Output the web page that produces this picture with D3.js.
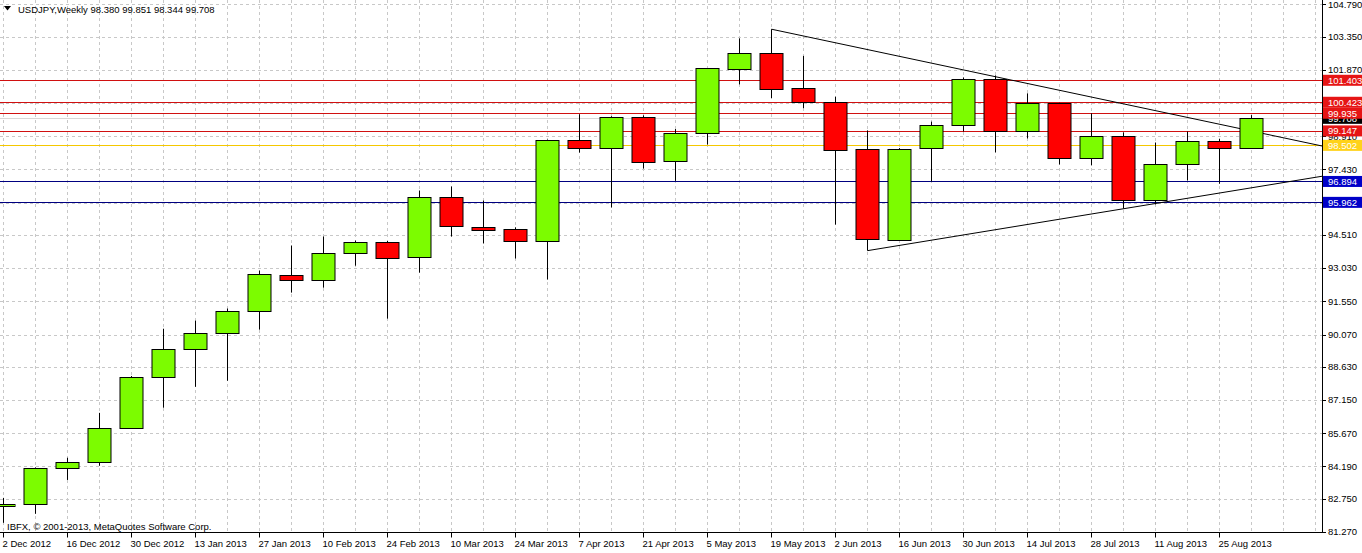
<!DOCTYPE html>
<html><head><meta charset="utf-8">
<script src="https://cdn.jsdelivr.net/npm/d3@7"></script>
<style>
body{margin:0;background:#fff}
svg{display:block}
text{font-family:"Liberation Sans",Arial,sans-serif;font-size:9.5px;fill:#000}
</style>
</head><body><svg id="c" width="1362" height="553"></svg>
<script>
// ---------- data ----------
const symbol = "USDJPY,Weekly";
const lastQuote = [98.380, 99.851, 98.344, 99.708];
const copyright = "IBFX, \u00A9 2001-2013, MetaQuotes Software Corp.";
const weekIdx = d3.range(40);
const opens  = [82.46,82.52,84.13,84.40,85.92,88.19,89.44,90.15,91.14,92.74,92.52,93.72,94.21,93.50,96.18,94.88,94.79,94.26,98.74,98.38,99.77,97.78,99.05,101.93,102.64,101.05,100.44,98.32,94.30,98.36,99.40,101.44,99.12,100.37,97.92,98.90,96.04,97.65,98.68,98.380];
const highs  = [82.79,84.15,84.58,86.58,88.22,90.33,90.69,91.23,92.92,94.04,94.44,94.26,94.24,96.49,96.67,96.04,94.85,98.76,99.89,99.80,99.84,99.23,101.95,103.27,103.68,102.49,100.67,99.17,98.38,99.56,101.53,101.62,100.82,100.40,99.93,99.08,98.63,99.12,98.79,99.851];
const lows   = [81.68,82.08,83.59,84.22,85.90,86.81,87.74,88.01,90.29,91.94,92.16,93.14,90.78,92.83,94.44,94.13,93.46,92.52,98.18,95.73,97.47,96.92,98.54,101.22,100.61,100.16,94.97,93.81,94.26,96.89,99.12,98.19,98.81,97.65,97.61,95.69,95.87,96.94,96.79,98.344];
const closes = [82.54,84.13,84.40,85.92,88.19,89.44,90.15,91.14,92.79,92.52,93.72,94.21,93.50,96.18,94.88,94.75,94.26,98.74,98.38,99.77,97.78,99.05,101.93,102.64,101.05,100.41,98.32,94.32,98.36,99.40,101.44,99.12,100.37,97.92,98.90,96.04,97.65,98.68,98.38,99.708];
const dateLabels = ["2 Dec 2012","16 Dec 2012","30 Dec 2012","13 Jan 2013","27 Jan 2013","10 Feb 2013","24 Feb 2013","10 Mar 2013","24 Mar 2013","7 Apr 2013","21 Apr 2013","5 May 2013","19 May 2013","2 Jun 2013","16 Jun 2013","30 Jun 2013","14 Jul 2013","28 Jul 2013","11 Aug 2013","25 Aug 2013"];
const priceTicks = [104.790,103.350,101.870,100.390,98.910,97.430,95.950,94.510,93.030,91.550,90.070,88.630,87.150,85.670,84.190,82.750,81.270];
const levels = [101.403,100.423,99.935,99.147,98.502,96.894,95.962];
const levelKind = ["res","res","res","res","mid","sup","sup"];
const trendUpper = [[24,103.68],[41.22,98.47]];
const trendLower = [[27,93.81],[41.22,97.13]];

// ---------- layout ----------
const W = 1362, H = 553, plotR = 1322, plotB = 532.5;
const svg = d3.select("#c");
svg.append("rect").attr("width",W).attr("height",H).attr("fill","#fff");

const x = d3.scaleLinear().domain([0,1]).range([3.5,35.5]);
const y = d3.scaleLinear().domain([81.27,104.79]).range([532,4.3]);

const kindColor = {res:"#d01010", mid:"#f5c800", sup:"#000080"};
const boxColor  = {res:"#e61515", mid:"#ffd21a", sup:"#0000c8"};

svg.append("clipPath").attr("id","pc").append("rect").attr("x",0).attr("y",0).attr("width",plotR).attr("height",plotB);
const plot = svg.append("g").attr("clip-path","url(#pc)");

// grid
plot.append("g").selectAll("line").data(priceTicks).join("line")
  .attr("x1",0).attr("x2",plotR)
  .attr("y1",d=>Math.round(y(d))+0.5).attr("y2",d=>Math.round(y(d))+0.5)
  .attr("stroke","#c8c8c8").attr("stroke-dasharray","3,3");
plot.append("g").selectAll("line").data(d3.range(42)).join("line")
  .attr("x1",d=>x(d)).attr("x2",d=>x(d))
  .attr("y1",0).attr("y2",plotB)
  .attr("stroke","#c8c8c8").attr("stroke-dasharray","3,3");

// bid line
plot.append("line").attr("x1",0).attr("x2",plotR)
  .attr("y1",Math.round(y(lastQuote[3]))+0.5).attr("y2",Math.round(y(lastQuote[3]))+0.5)
  .attr("stroke","#d8d8d8");

// levels
plot.append("g").selectAll("line").data(levels).join("line")
  .attr("x1",0).attr("x2",plotR)
  .attr("y1",d=>Math.round(y(d))+0.5).attr("y2",d=>Math.round(y(d))+0.5)
  .style("stroke",(d,i)=>kindColor[levelKind[i]]).attr("stroke-width",1);

// trendlines
const tl = d3.line().x(d=>x(d[0])).y(d=>y(d[1]));
[trendUpper,trendLower].forEach(t=>plot.append("path").attr("d",tl(t)).attr("fill","none").attr("stroke","#000").attr("stroke-width",1));

// candles
const cg = plot.append("g").selectAll("g").data(weekIdx).join("g");
cg.append("line")
  .attr("x1",i=>x(i)).attr("x2",i=>x(i))
  .attr("y1",i=>y(highs[i])).attr("y2",i=>y(lows[i]))
  .attr("stroke","#000");
cg.append("rect")
  .attr("x",i=>x(i)-11.5).attr("width",23)
  .attr("y",i=>Math.round(y(Math.max(opens[i],closes[i])))+0.5)
  .attr("height",i=>Math.max(1,Math.round(Math.abs(y(opens[i])-y(closes[i])))))
  .attr("fill",i=>closes[i]>=opens[i]?"#7cfc00":"#ff0000")
  .attr("stroke","#000").attr("stroke-width",1);

// axes lines
svg.append("line").attr("x1",plotR+0.5).attr("x2",plotR+0.5).attr("y1",0).attr("y2",plotB).attr("stroke","#000");
svg.append("line").attr("x1",0).attr("x2",plotR+0.5).attr("y1",plotB).attr("y2",plotB).attr("stroke","#000");

// right axis ticks + labels
const ra = svg.append("g");
ra.selectAll("line").data(priceTicks).join("line")
  .attr("x1",plotR).attr("x2",plotR+4)
  .attr("y1",d=>Math.round(y(d))+0.5).attr("y2",d=>Math.round(y(d))+0.5).attr("stroke","#000");
ra.selectAll("text").data(priceTicks).join("text")
  .attr("x",plotR+6).attr("y",d=>y(d)).attr("dy","0.35em")
  .text(d=>d.toFixed(3));

// bid box
const bg = svg.append("g");
bg.append("rect").attr("x",plotR+1).attr("width",W-plotR-1).attr("y",y(lastQuote[3])-5.5).attr("height",11).attr("fill","#000");
bg.append("text").attr("x",plotR+6).attr("y",y(lastQuote[3])).attr("dy","0.35em").style("fill","#fff").text(lastQuote[3].toFixed(3));

// level boxes
const lb = svg.append("g").selectAll("g").data(levels).join("g");
lb.append("rect").attr("x",plotR+1).attr("width",W-plotR-1)
  .attr("y",d=>y(d)-5.5).attr("height",11)
  .attr("fill",(d,i)=>boxColor[levelKind[i]]);
lb.append("text").attr("x",plotR+6).attr("y",d=>y(d)).attr("dy","0.35em")
  .style("fill","#fff").text(d=>d.toFixed(3));

// bottom axis
const ba = svg.append("g");
ba.selectAll("line").data(dateLabels).join("line")
  .attr("x1",(d,i)=>x(i*2)).attr("x2",(d,i)=>x(i*2))
  .attr("y1",plotB).attr("y2",plotB+5).attr("stroke","#000");
ba.selectAll("text").data(dateLabels).join("text")
  .attr("x",(d,i)=>x(i*2)-1).attr("y",547).text(d=>d);

// header
svg.append("path").attr("d","M4,6 L11,6 L7.5,10.5 Z").attr("fill","#000");
svg.append("text").attr("x",18).attr("y",13)
  .text(symbol + "  " + lastQuote.map(v=>v.toFixed(3)).join(" "));

// copyright
svg.append("text").attr("x",7).attr("y",530).text(copyright);
</script>
</body></html>
